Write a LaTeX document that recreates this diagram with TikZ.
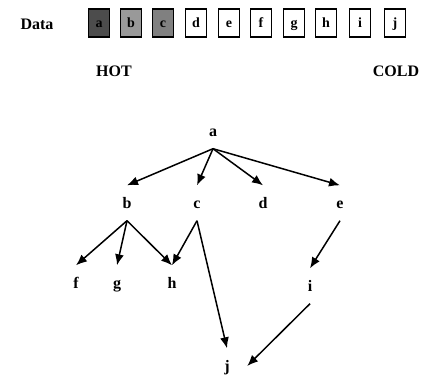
\documentclass[tikz,border=0pt]{standalone}
\usepackage{fontspec}
\setmainfont{Liberation Serif}
\usetikzlibrary{arrows.meta}
\begin{document}
\begin{tikzpicture}[x=1pt,y=-1pt,
  lbl/.style={font=\fontsize{16}{16}\selectfont\bfseries, inner sep=0pt},
  databox/.style={draw, line width=1.3pt, minimum width=21pt, minimum height=28pt, inner sep=0pt,
    font=\fontsize{14}{14}\selectfont\bfseries, text height=9pt, text depth=0pt},
  tnode/.style={font=\fontsize{16}{16}\selectfont\bfseries, inner sep=0pt,
    minimum height=35pt, text height=10pt, text depth=0pt},
  arr/.style={line width=1.5pt, -{Latex[length=11pt,width=9pt]}}]
\useasboundingbox (0,0) rectangle (428,376);
% top row
\node[lbl] (data) at (37,24) {Data};
\node[databox, fill=black!70] (ba) at (99,23) {a};
\node[databox, fill=black!40] (bb) at (131,23) {b};
\node[databox, fill=black!50] (bc) at (163,23) {c};
\node[databox] (bd) at (196,23) {d};
\node[databox] (be) at (229,23) {e};
\node[databox] (bf) at (261,23) {f};
\node[databox] (bg) at (294,23) {g};
\node[databox] (bh) at (326,23) {h};
\node[databox] (bi) at (360,23) {i};
\node[databox] (bj) at (395,23) {j};
\node[lbl] (hot) at (114,71) {HOT};
\node[lbl] (cold) at (396,71) {COLD};
% tree
\node[tnode] (a) at (213,131) {a};
\node[tnode] (b) at (127,203) {b};
\node[tnode] (c) at (197,203) {c};
\node[tnode] (d) at (263,203) {d};
\node[tnode] (e) at (340,203) {e};
\node[tnode] (f) at (76,283) {f};
\node[tnode] (g) at (117,283) {g};
\node[tnode] (h) at (172,283) {h};
\node[tnode] (i) at (310,286) {i};
\node[tnode, minimum width=40pt] (j) at (227,366) {j};
\draw[arr] (a.south) -- (b.north);
\draw[arr] (a.south) -- (c.north);
\draw[arr] (a.south) -- (d.north);
\draw[arr] (a.south) -- (e.north);
\draw[arr] (b.south) -- (f.north);
\draw[arr] (b.south) -- (g.north);
\draw[arr] (b.south) -- (h.north);
\draw[arr] (c.south) -- (h.north);
\draw[arr] (c.south) -- (j.north);
\draw[arr] (e.south) -- (i.north);
\draw[arr] (i.south) -- (j.east);
\end{tikzpicture}
\end{document}
